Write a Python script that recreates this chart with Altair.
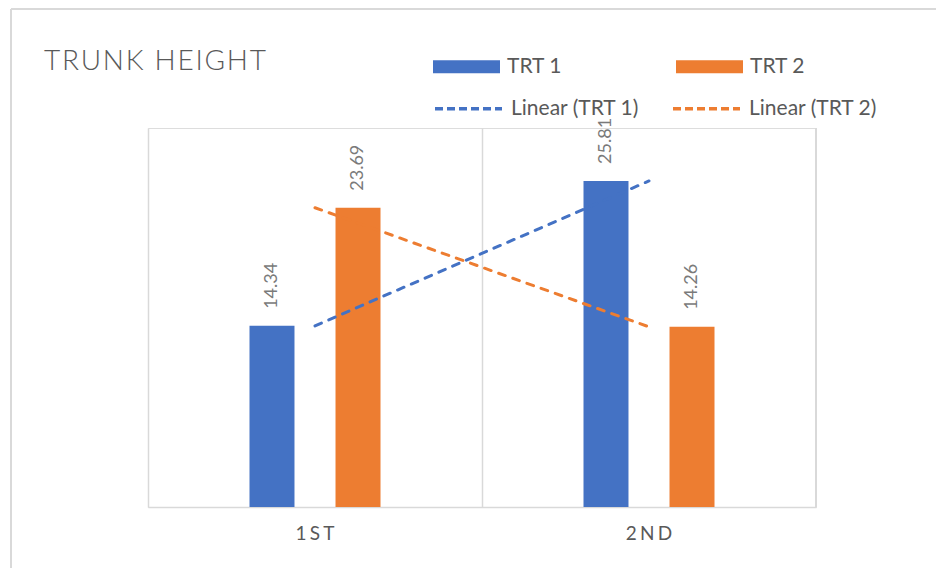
import altair as alt
import pandas as pd

# ---- data ----
categories = ["1ST", "2ND"]
series_names = ["TRT 1", "TRT 2"]
trt1 = [14.34, 25.81]
trt2 = [23.69, 14.26]
title_text = "TRUNK HEIGHT"

BLUE = "#4472C4"
ORANGE = "#ED7D31"
GRID = "#d9d9d9"
TEXT = "#595959"
FONT = "Lato"

rows = []
for s, vals in zip(series_names, [trt1, trt2]):
    for c, v in zip(categories, vals):
        rows.append({"category": c, "series": s, "trend": f"Linear ({s})", "value": v})
df = pd.DataFrame(rows)
trend_names = [f"Linear ({s})" for s in series_names]

W, H = 668, 379
HS = "\u200a"   # hair space for title letter spacing
SS = "\u2006"   # six-per-em space for axis label letter spacing

x_enc = alt.X("category:N", sort=categories,
              scale=alt.Scale(paddingInner=0, paddingOuter=0),
              axis=alt.Axis(title=None, grid=True, bandPosition=0, gridColor=GRID, gridWidth=1.5,
                            domainColor=GRID, domainWidth=1.5, ticks=False,
                            labelFont=FONT, labelFontSize=19, labelColor=TEXT, labelPadding=17,
                            labelAngle=0,
                            labelExpr=f"join(split(datum.label, ''), '{SS}')"))
y_enc = alt.Y("value:Q", scale=alt.Scale(domain=[0, 30], nice=False), axis=None)
offset_domain = ["_gap_a"] + series_names + ["_gap_b"]
xoff = alt.XOffset("series:N",
                   scale=alt.Scale(domain=offset_domain, paddingInner=0.477, paddingOuter=0.18))

rect_path = "M-1,-0.194L1,-0.194L1,0.194L-1,0.194Z"

base = alt.Chart(df)

# outer chart-area frame (top and left edges visible; others fall outside the picture)
frame_top = base.mark_rule(color=GRID, strokeWidth=1.5).encode(
    x=alt.value(-137), x2=alt.value(W + 130), y=alt.value(-119)
)
frame_left = base.mark_rule(color=GRID, strokeWidth=1.5).encode(
    x=alt.value(-137), y=alt.value(-119), y2=alt.value(H + 70)
)

title = alt.Chart(pd.DataFrame({"t": [HS.join(title_text)]})).mark_text(
    align="left", baseline="alphabetic", font=FONT, fontSize=28, fontWeight=300, color=TEXT
).encode(x=alt.value(-104), y=alt.value(-58), text="t:N")

right_rule = base.mark_rule(color=GRID, strokeWidth=1.5).encode(
    x=alt.value(W), y=alt.value(0), y2=alt.value(H)
)

bars = base.mark_bar().encode(
    x=x_enc, xOffset=xoff, y=y_enc,
    color=alt.Color("series:N", sort=series_names,
                    scale=alt.Scale(domain=series_names, range=[BLUE, ORANGE]),
                    legend=alt.Legend(title=None, orient="none", legendX=285, legendY=-95,
                                      direction="horizontal", symbolType=rect_path,
                                      symbolSize=4489, symbolStrokeWidth=0, symbolOpacity=1,
                                      labelFont=FONT, labelFontSize=21, labelColor=TEXT,
                                      labelOffset=7, columnPadding=113)),
)

labels = base.mark_text(angle=270, align="left", baseline="middle", dx=17,
                        font=FONT, fontSize=18, color="#7a7a7a").encode(
    x=alt.X("category:N", sort=categories), xOffset=alt.XOffset("series:N"),
    y=alt.Y("value:Q"),
    text=alt.Text("value:Q", format=".2f"),
)

lines = base.mark_line(strokeWidth=3, strokeDash=[7, 8], strokeCap="round").encode(
    x=alt.X("category:N", sort=categories),
    y=alt.Y("value:Q"),
    color=alt.Color("trend:N", sort=trend_names,
                    scale=alt.Scale(domain=trend_names, range=[BLUE, ORANGE]),
                    legend=alt.Legend(title=None, orient="none", legendX=285, legendY=-55,
                                      direction="horizontal", symbolType="stroke",
                                      symbolSize=4489, symbolStrokeWidth=3.5,
                                      symbolDash=[8, 4],
                                      labelFont=FONT, labelFontSize=21, labelColor=TEXT,
                                      labelOffset=7, columnPadding=26)),
    detail="trend:N",
)

chart = alt.layer(frame_top, frame_left, title, right_rule, bars, labels, lines).resolve_scale(
    color="independent"
).properties(
    width=W, height=H,
    autosize="none",
    padding={"left": 148, "top": 128, "right": 936 - 148 - W, "bottom": 568 - 128 - H},
).configure_view(stroke=None).configure(background="white")

chart.save("out.html", embed_options={"renderer": "svg", "actions": False})
